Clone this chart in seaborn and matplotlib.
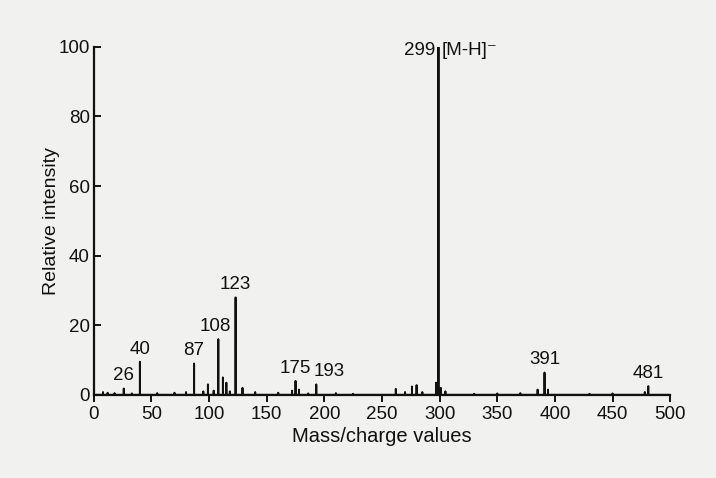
import numpy as np
import pandas as pd
import matplotlib
matplotlib.use("Agg")
import matplotlib.pyplot as plt
import seaborn as sns

# Peak list
mz = [8, 12, 18, 26, 33, 40, 55, 70, 80, 87, 95, 99, 104, 108, 112, 115, 118, 123,
      129, 140, 160, 172, 175, 178, 186, 193, 210, 225, 262, 270, 276, 280, 285,
      297, 299, 301, 305, 330, 350, 370, 385, 391, 394, 430, 450, 478, 481]
intensity = [0.8, 0.6, 0.5, 1.8, 0.4, 9.5, 0.5, 0.6, 0.8, 9.0, 1.0, 3.0, 1.2, 16.0,
             5.0, 3.5, 1.0, 28.0, 2.0, 0.8, 0.6, 1.2, 4.0, 1.5, 0.4, 3.0, 0.5, 0.3,
             1.7, 0.8, 2.4, 2.8, 0.8, 3.5, 100.0, 2.0, 1.0, 0.3, 0.4, 0.5, 1.5,
             6.4, 1.5, 0.3, 0.4, 0.8, 2.5]

label_mz = [26, 40, 87, 108, 123, 175, 193, 391, 481]
label_text = ["26", "40", "87", "108", "123", "175", "193", "391", "481"]
label_dx = [0, 0, 0, -3, 0, 0, 11, 0, 0]

xticks = [0, 50, 100, 150, 200, 250, 300, 350, 400, 450, 500]
yticks = [0, 20, 40, 60, 80, 100]

# Build a stick profile (each peak drawn as a spike from the baseline)
rows = []
for m, h in zip(mz, intensity):
    rows += [(m - 0.05, 0.0), (m, h), (m + 0.05, 0.0)]
rows = [(0.0, 0.0)] + rows + [(500.0, 0.0)]
profile = pd.DataFrame(rows, columns=["mz", "intensity"])

sns.set_theme(style="ticks")
plt.rcParams["font.family"] = ["Liberation Sans", "DejaVu Sans"]

fig = plt.figure(figsize=(7.16, 4.78), dpi=100)
bg = "#f1f1ef"
fig.patch.set_facecolor(bg)
ax = fig.add_axes([0.131, 0.174, 0.805, 0.728])
ax.set_facecolor(bg)

sns.lineplot(data=profile, x="mz", y="intensity", sort=False, estimator=None,
             color="#111111", linewidth=1.4, ax=ax)

ax.set_xlim(0, 500)
ax.set_ylim(0, 100)
ax.set_xticks(xticks)
ax.set_yticks(yticks)
ax.tick_params(axis="x", direction="out", length=5, width=1.4, labelsize=13.5,
               colors="#111111", pad=3)
ax.tick_params(axis="y", direction="in", length=5, width=1.4, labelsize=13.5,
               colors="#111111", pad=3)
for side in ["top", "right"]:
    ax.spines[side].set_visible(False)
for side in ["left", "bottom"]:
    ax.spines[side].set_linewidth(1.6)
    ax.spines[side].set_color("#111111")

ax.set_xlabel("Mass/charge values", fontsize=14.5, color="#111111", labelpad=3)
ax.set_ylabel("Relative intensity", fontsize=14, color="#111111", labelpad=-1)

lookup = dict(zip(mz, intensity))
for m, t, dx in zip(label_mz, label_text, label_dx):
    ax.annotate(t, xy=(m + dx, lookup[m]), xytext=(0, 3), textcoords="offset points",
                ha="center", va="bottom", fontsize=13.5, color="#111111")

ax.text(296, 99, "299", ha="right", va="center", fontsize=13.5, color="#111111")
ax.text(302, 99, "[M-H]\u207b", ha="left", va="center", fontsize=13.5, color="#111111",
        family=["Liberation Sans", "DejaVu Sans"])

fig.savefig("out.png", dpi=100, facecolor=bg)
